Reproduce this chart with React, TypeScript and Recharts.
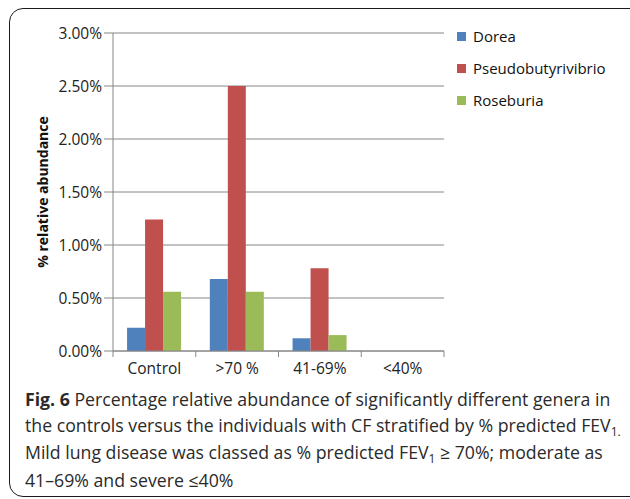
import { BarChart, Bar, XAxis, YAxis, CartesianGrid, Label } from 'recharts'

// values in % relative abundance
const categories = ['Control', '>70 %', '41-69%', '<40%']
const dorea = [0.22, 0.68, 0.12, 0]
const pseudobutyrivibrio = [1.24, 2.5, 0.78, 0]
const roseburia = [0.56, 0.56, 0.15, 0]
const yTicks = [0, 0.5, 1, 1.5, 2, 2.5, 3]

const SERIES = [
  { key: 'dorea', name: 'Dorea', color: '#4F81BD' },
  { key: 'pseudobutyrivibrio', name: 'Pseudobutyrivibrio', color: '#C0504D' },
  { key: 'roseburia', name: 'Roseburia', color: '#9BBB59' },
]

const data = categories.map((cat, i) => ({
  cat,
  dorea: dorea[i],
  pseudobutyrivibrio: pseudobutyrivibrio[i],
  roseburia: roseburia[i],
}))

const CHART_W = 630
const CHART_H = 390
const MARGIN = { top: 33, right: 186, left: 0, bottom: 0 }
const Y_AXIS_W = 113
const BAND = (CHART_W - MARGIN.right - MARGIN.left - Y_AXIS_W) / categories.length
const AXIS_GREY = '#868686'
const FONT = '"Open Sans", sans-serif'

function CategoryTick(props: any) {
  const { x, y, payload, index } = props
  const half = BAND / 2
  const top = y - 8
  return (
    <g>
      <line x1={x - half} x2={x - half} y1={top} y2={top + 6} stroke={AXIS_GREY} />
      {index === categories.length - 1 && (
        <line x1={x + half} x2={x + half} y1={top} y2={top + 6} stroke={AXIS_GREY} />
      )}
      <text x={x} y={y + 14.5} textAnchor="middle" fill="#222" fontSize={15.5}>
        {payload.value}
      </text>
    </g>
  )
}

function Sub({ children }: { children: string }) {
  return (
    <span style={{ fontSize: 12, position: 'relative', top: 4 }}>{children}</span>
  )
}

export default function App() {
  return (
    <div
      style={{
        position: 'absolute', left: 0, top: 0, width: 630, height: 499,
        overflow: 'hidden', background: '#fff', fontFamily: FONT,
      }}
    >
      {/* rounded figure frame, runs off the right edge */}
      <div
        style={{
          position: 'absolute', left: 9, top: 8, width: 660, height: 489,
          boxSizing: 'border-box', border: '1.6px solid #1a1a1a', borderRadius: 14,
        }}
      />

      <div style={{ position: 'absolute', left: 0, top: 0 }}>
        <BarChart
          width={CHART_W}
          height={CHART_H}
          data={data}
          margin={MARGIN}
          barCategoryGap="17%"
          barGap={0}
        >
          <CartesianGrid vertical={false} stroke={AXIS_GREY} />
          <XAxis
            dataKey="cat"
            height={CHART_H - 351}
            tickLine={false}
            tickSize={6}
            tickMargin={2}
            axisLine={{ stroke: AXIS_GREY }}
            tick={<CategoryTick />}
            interval={0}
          />
          <YAxis
            width={Y_AXIS_W}
            domain={[0, 3]}
            ticks={yTicks}
            tickFormatter={(v: number) => `${v.toFixed(2)}%`}
            tickSize={9}
            tickMargin={2}
            tickLine={{ stroke: AXIS_GREY }}
            axisLine={{ stroke: AXIS_GREY }}
            tick={{ fill: '#222', fontSize: 15.5 }}
          >
            <Label
              content={({ viewBox }: any) => (
                <text
                  x={viewBox.x + 42}
                  y={viewBox.y + viewBox.height / 2}
                  transform={`rotate(-90 ${viewBox.x + 42} ${viewBox.y + viewBox.height / 2})`}
                  textAnchor="middle"
                  dominantBaseline="central"
                  fontWeight="bold"
                  fontSize={14}
                  fill="#111"
                >
                  % relative abundance
                </text>
              )}
            />
          </YAxis>
          {SERIES.map(s => (
            <Bar key={s.key} dataKey={s.key} name={s.name} fill={s.color} isAnimationActive={false} />
          ))}
        </BarChart>
      </div>

      {/* legend */}
      {SERIES.map((s, i) => (
        <div
          key={s.key}
          style={{
            position: 'absolute', left: 457, top: 36 + i * 32 - 11, height: 22,
            display: 'flex', alignItems: 'center', gap: 7,
            fontSize: 15, color: '#111', whiteSpace: 'nowrap',
          }}
        >
          <span style={{ width: 9, height: 9, background: s.color, display: 'inline-block' }} />
          {s.name}
        </div>
      ))}

      {/* caption */}
      <div
        style={{
          position: 'absolute', left: 25, top: 387, width: 600,
          fontSize: 17.7, lineHeight: '25.5px', color: '#2a2a2a', whiteSpace: 'nowrap',
        }}
      >
        <div><b>Fig. 6</b> Percentage relative abundance of significantly different genera in</div>
        <div>the controls versus the individuals with CF stratified by % predicted FEV<Sub>1.</Sub></div>
        <div>Mild lung disease was classed as % predicted FEV<Sub>1</Sub> ≥ 70%; moderate as</div>
        <div>41–69% and severe ≤40%</div>
      </div>
    </div>
  )
}
